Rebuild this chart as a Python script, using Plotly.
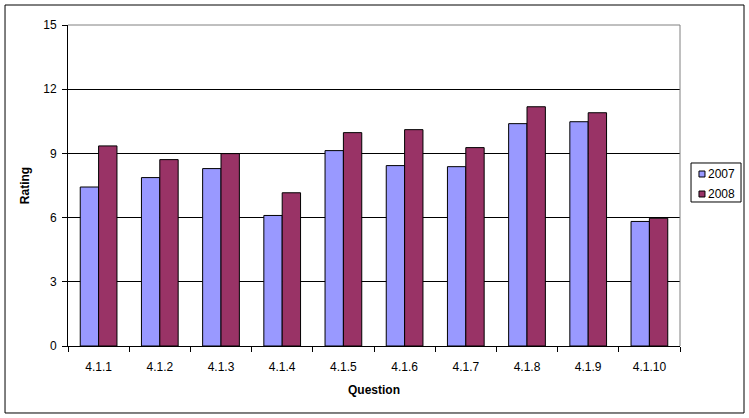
import plotly.graph_objects as go

questions = ["4.1.1", "4.1.2", "4.1.3", "4.1.4", "4.1.5", "4.1.6", "4.1.7", "4.1.8", "4.1.9", "4.1.10"]
rating_2007 = [7.43, 7.87, 8.29, 6.10, 9.13, 8.43, 8.38, 10.39, 10.48, 5.82]
rating_2008 = [9.35, 8.71, 8.99, 7.16, 9.97, 10.11, 9.27, 11.18, 10.90, 5.97]
y_ticks = [0, 3, 6, 9, 12, 15]
series_names = ["2007", "2008"]
series_colors = ["#9999FF", "#993366"]

FONT = "Liberation Sans, Arial, sans-serif"

fig = go.Figure()
for name, vals, col in zip(series_names, [rating_2007, rating_2008], series_colors):
    fig.add_trace(go.Bar(x=questions, y=vals, name=name,
                         marker=dict(color=col, line=dict(color="black", width=1))))

# Compact Excel-style legend box (drawn with shapes + text)
shapes = [
    dict(type="line", xref="paper", yref="paper", x0=0, x1=1, y0=1, y1=1,
         line=dict(color="#808080", width=1), layer="above"),
    dict(type="line", xref="paper", yref="paper", x0=1, x1=1, y0=0, y1=1,
         line=dict(color="#808080", width=1), layer="above"),
    dict(type="rect", xref="paper", yref="paper",
         x0=-0.1029, x1=1.1046, y0=-0.2087, y1=1.0623,
         line=dict(color="black", width=1), layer="below"),
    dict(type="rect", xref="paper", yref="paper",
         x0=1.0180, x1=1.0997, y0=0.4486, y1=0.5701,
         line=dict(color="black", width=1), fillcolor="white", layer="above"),
]
annotations = []
legend_rows_y = [0.5358, 0.4735]
for name, col, yc in zip(series_names, series_colors, legend_rows_y):
    shapes.append(dict(type="rect", xref="paper", yref="paper",
                       x0=1.0310, x1=1.0408, y0=yc - 0.0093, y1=yc + 0.0093,
                       line=dict(color="black", width=1), fillcolor=col, layer="above"))
    annotations.append(dict(text=name, xref="paper", yref="paper", x=1.0425, y=yc,
                            xanchor="left", yanchor="middle", showarrow=False,
                            font=dict(size=12, color="black")))

fig.update_layout(
    width=749, height=418,
    margin=dict(l=68, r=69, t=25, b=72, autoexpand=False),
    paper_bgcolor="white", plot_bgcolor="white",
    font=dict(family=FONT, size=12, color="black"),
    barmode="group", bargap=0.4, bargroupgap=0,
    showlegend=False,
    xaxis=dict(showline=True, linecolor="black", linewidth=1,
               ticks="outside", ticklen=5, tickcolor="black", tickson="boundaries",
               showgrid=False, tickfont=dict(size=12), ticklabelstandoff=10,
               title=dict(text="<b>Question</b>", standoff=12, font=dict(size=12))),
    yaxis=dict(range=[0, 15], tickvals=y_ticks, showline=True, linecolor="black", linewidth=1,
               ticks="outside", ticklen=5, tickcolor="black",
               showgrid=True, gridcolor="black", gridwidth=1, zeroline=False,
               tickfont=dict(size=12), ticklabelstandoff=3,
               title=dict(text="<b>Rating</b>", standoff=11, font=dict(size=12))),
    shapes=shapes,
    annotations=annotations,
)

fig.write_html("out.html")
